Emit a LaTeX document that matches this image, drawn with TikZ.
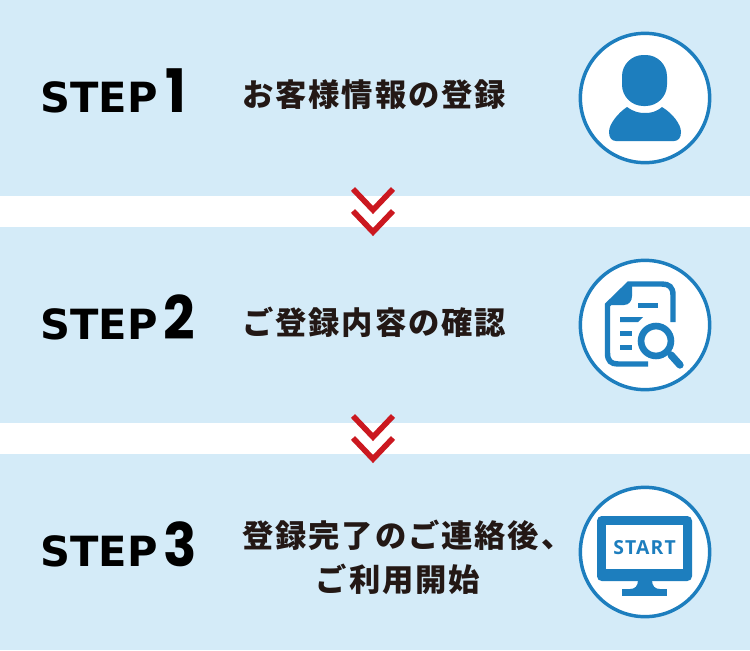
\documentclass[tikz,border=0pt]{standalone}
\usepackage{fontspec}
\newfontfamily\jpfont[LetterSpace=6]{Noto Sans CJK JP}
\newfontfamily\stepfont{DejaVu Sans}
\newfontfamily\numfont[FakeStretch=0.92]{Poppins}
\newfontfamily\startfont[LetterSpace=6]{Open Sans}
\definecolor{panelblue}{HTML}{D4EBF8}
\definecolor{iconblue}{HTML}{1D7EBE}
\definecolor{arrowred}{HTML}{CB1820}
\definecolor{inkblack}{HTML}{231815}
\tikzset{
  panel/.style={fill=panelblue,minimum width=562.5pt,minimum height=147pt,inner sep=0pt},
  iconring/.style={circle,draw=iconblue,line width=2.6pt,fill=white,minimum size=97pt,inner sep=0pt},
  steplabel/.style={anchor=base west,inner sep=0pt,font=\stepfont\bfseries\fontsize{31.2}{32}\selectfont,text=black},
  stepnum/.style={anchor=base west,inner sep=0pt,font=\numfont\bfseries\fontsize{45}{45}\selectfont,text=black},
  jptext/.style={anchor=west,inner sep=0pt,font=\jpfont\bfseries\fontsize{23.5}{24}\selectfont,text=inkblack},
  chevron/.style={draw=arrowred,line width=4.2pt,miter limit=10}
}
\begin{document}
\begin{tikzpicture}[x=0.75pt,y=-0.75pt]
  \useasboundingbox (0,0) rectangle (750,650);

  \node[panel] (panela) at (375,98) {};
  \node[panel] (panelb) at (375,325) {};
  \node[panel] (panelc) at (375,552) {};

  \node[iconring] (ringa) at (645,98) {};
  \node[iconring] (ringb) at (645,325) {};
  \node[iconring] (ringc) at (645,552) {};

  \node[steplabel] (stepa) at (40,112) {STEP};
  \node[stepnum] (numa) at (165,112) {1};
  \node[steplabel] (stepb) at (40,339) {STEP};
  \node[stepnum] (numb) at (163,339) {2};
  \node[steplabel] (stepc) at (40,566) {STEP};
  \node[stepnum] (numc) at (163,566) {3};

  \node[jptext] (texta) at (242,95) {お客様情報の登録};
  \node[jptext] (textb) at (242,322) {ご登録内容の確認};
  \node[jptext] (textc) at (242,535) {登録完了のご連絡後、};
  \node[jptext,anchor=center] (textd) at (398,579) {ご利用開始};

  % arrows between the panels
  \draw[chevron] (353,189) -- (373,210) -- (393,189);
  \draw[chevron] (353,211) -- (373,232) -- (393,211);
  \draw[chevron] (353,416) -- (373,437) -- (393,416);
  \draw[chevron] (353,438) -- (373,459) -- (393,438);

  % person
  \fill[iconblue,rounded corners=16pt] (622,55) rectangle (667,106);
  \fill[iconblue] (627,107) .. controls (634,112) and (639,113) .. (645,113)
    .. controls (651,113) and (656,112) .. (662,107)
    .. controls (672,113) and (681,124) .. (681,132)
    .. controls (681,138) and (678,141) .. (674,141)
    -- (616,141) .. controls (612,141) and (609,138) .. (609,132)
    .. controls (609,124) and (618,113) .. (627,107) -- cycle;

  % document and magnifier
  \draw[iconblue,line width=4.1pt] (673,322) -- (673,295)
    .. controls (673,287) and (669,284) .. (662,284) -- (629,284)
    -- (607.5,305) -- (607.5,353)
    .. controls (607.5,361) and (611,364) .. (618,364) -- (648,364);
  \fill[iconblue] (605,305) -- (629,282) -- (632,282) -- (632,296)
    .. controls (632,301) and (629,305) .. (624,305) -- cycle;
  \fill[iconblue] (638,303) rectangle (658,308);
  \fill[iconblue] (620,317) -- (643,317) -- (638,322) -- (620,322) -- cycle;
  \fill[iconblue] (620,331) rectangle (632,336);
  \fill[iconblue] (620,345) rectangle (632,350);
  \draw[white,fill=white,line width=3pt] (656,341) circle[radius=14.5pt];
  \draw[iconblue,line width=5pt] (656,341) circle[radius=11.2pt];
  \draw[iconblue,line width=5.5pt,line cap=round] (671,355) -- (680,365);

  % monitor
  \fill[iconblue,rounded corners=3.5pt] (597,516) rectangle (692,581);
  \fill[white] (606,525) rectangle (683,569);
  \fill[iconblue] (622,589) rectangle (667,596);
  \fill[iconblue] (638,580) -- (652,580) .. controls (652,586) and (655,589) .. (660,589)
    -- (630,589) .. controls (635,589) and (638,586) .. (638,580) -- cycle;
  \node[inner sep=0pt,font=\startfont\bfseries\fontsize{14.5}{15}\selectfont,text=iconblue] (startlabel) at (644.5,548) {START};
\end{tikzpicture}
\end{document}
